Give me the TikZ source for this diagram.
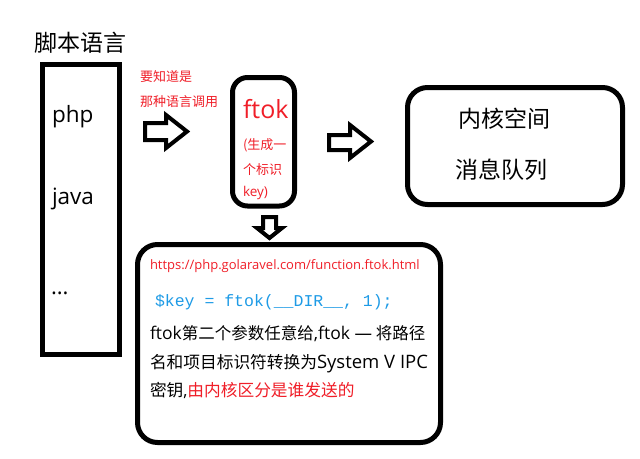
\documentclass[tikz,border=0pt]{standalone}
\usepackage{fontspec}
\setmainfont{Noto Sans CJK SC}
\newfontfamily\lat{Open Sans}
\setmonofont{Liberation Mono}
\definecolor{myred}{RGB}{240,30,40}
\definecolor{codeblue}{RGB}{30,155,230}
\tikzset{
  box/.style={draw=black,line width=5pt},
  blockarrow/.style={draw=black,line width=4pt,line join=miter,fill=white},
  txt/.style={anchor=base west,inner sep=0pt,outer sep=0pt},
}
\newcommand{\fsz}[1]{\fontsize{#1pt}{#1pt}\selectfont}
\begin{document}
\begin{tikzpicture}[x=1pt,y=-1pt]
\useasboundingbox[fill=white] (0,0) rectangle (640,458);
% title
\node[inner sep=0pt] (title) at (80.5,43) {\fsz{23}脚本语言};
% left box
\draw[box] (42.5,64.5) rectangle (119.5,354.5);
\node[txt] (php) at (52,122) {\fsz{22.5}\lat php};
\node[txt] (java) at (52,204) {\fsz{22.5}\lat java};
\node[txt] (dots) at (51,294) {\fsz{22}\lat ...};
% red note
\node[txt,text=myred] (note1) at (140,81) {\fsz{13}要知道是};
\node[txt,text=myred] (note2) at (140,106) {\fsz{13}那种语言调用};
% arrow 1
\draw[blockarrow] (145,123) -- (166,123) -- (166,115) -- (187,131.5) -- (166,148) -- (166,140) -- (145,140) -- cycle;
% ftok box
\draw[box,rounded corners=15pt] (232.5,77.5) rectangle (294.5,206);
\node[txt,text=myred] (ftok) at (243,118) {\fsz{25}\lat ftok};
\node[txt,text=myred] (f1) at (243,149) {\fsz{13}(生成一};
\node[txt,text=myred] (f2) at (243,174) {\fsz{13}个标识};
\node[txt,text=myred] (f3) at (243,196) {\fsz{13.5}\lat key)};
% arrow 2
\draw[blockarrow] (329,135) -- (350,135) -- (350,125) -- (371,141.5) -- (350,158) -- (350,150) -- (329,150) -- cycle;
% right box
\draw[box,rounded corners=20pt] (407.5,87.5) rectangle (622.5,204.5);
\node[txt] (k1) at (458,127) {\fsz{23}内核空间};
\node[txt] (k2) at (455,178) {\fsz{23}消息队列};
% down arrow
\draw[blockarrow] (263,217) -- (276,217) -- (276,228) -- (282,228) -- (269.5,238) -- (257,228) -- (263,228) -- cycle;
% bottom box
\draw[box,rounded corners=20pt] (137.5,244.5) rectangle (440.5,442.5);
\node[txt,text=myred] (url) at (150,269) {\fsz{13}\lat https://php.golaravel.com/function.ftok.html};
\node[txt,text=codeblue] (code) at (155,306) {\fsz{16.5}\ttfamily\$key = ftok(\_\_DIR\_\_, 1);};
\node[txt] (l1) at (150,339) {\fsz{16.5}{\fsz{17.5}\lat ftok}第二个参数任意给{\fsz{17.5}\lat ,ftok —} 将路径};
\node[txt] (l2) at (150,368) {\fsz{16.7}名和项目标识符转换为{\fsz{18.5}\lat System V IPC}};
\node[txt] (l3) at (150,396) {\fsz{16.7}密钥{\lat ,}\textcolor{myred}{由内核区分是谁发送的}};
\end{tikzpicture}
\end{document}
